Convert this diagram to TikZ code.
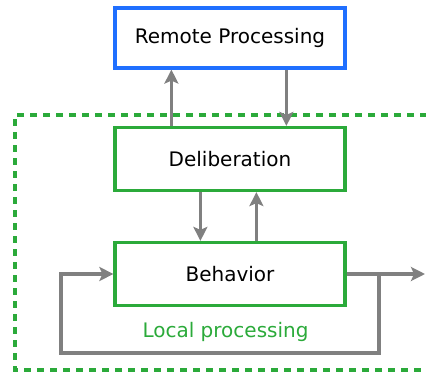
\documentclass[tikz,border=0pt]{standalone}
\usepackage{fontspec}
\setmainfont{DejaVu Sans}
\usetikzlibrary{arrows.meta}
\definecolor{bblue}{RGB}{31,111,255}
\definecolor{lgreen}{RGB}{43,170,58}
\definecolor{agray}{RGB}{128,128,128}
\begin{document}
\begin{tikzpicture}[x=1pt,y=-1pt,
  box/.style={draw,line width=3.2pt,minimum width=230pt,inner sep=0pt,
    font=\fontsize{20}{24}\selectfont,text=black,fill=white},
  remotebox/.style={box,draw=bblue,minimum height=60pt},
  localbox/.style={box,draw=lgreen,minimum height=63pt},
  conn/.style={draw=agray,line width=3.2pt},
  arr/.style={conn,-{Stealth[length=14pt,width=14pt,inset=3pt]}},
  region/.style={draw=lgreen,line width=3.2pt,dash pattern=on 7pt off 6pt}]
\useasboundingbox (0,0) rectangle (426,372);
\draw[region] (440,115) -- (15,115) -- (15,370) -- (440,370);
\node[remotebox] (remote) at (230,38) {Remote Processing};
\node[localbox] (delib) at (230,159) {Deliberation};
\node[localbox] (behav) at (230,274) {Behavior};
\node[text=lgreen,font=\fontsize{20}{24}\selectfont] (local) at (225.5,332) {Local processing};
\draw[arr] ([xshift=58pt]delib.north west) -- ([xshift=58pt]remote.south west);
\draw[arr] ([xshift=173pt]remote.south west) -- ([xshift=173pt]delib.north west);
\draw[arr] ([xshift=87pt]delib.south west) -- ([xshift=87pt]behav.north west);
\draw[arr] ([xshift=143pt]behav.north west) -- ([xshift=143pt]delib.south west);
\coordinate (out) at (425,274);
\coordinate (br) at (379,274);
\coordinate (bl) at (61,353);
\draw[arr] (behav.east) -- (out);
\draw[arr] (br) |- (bl) |- (behav.west);
\end{tikzpicture}
\end{document}
